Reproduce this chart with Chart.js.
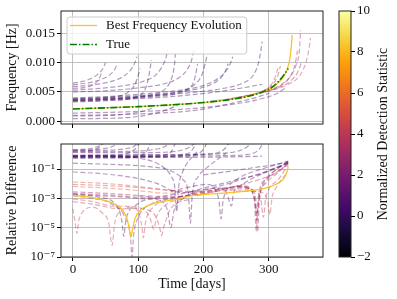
<!DOCTYPE html>
<html lang="en">
<head>
<meta charset="UTF-8">
<title>Frequency tracks</title>
<script src="https://cdn.jsdelivr.net/npm/chart.js"></script>
<style>
  body { margin: 0; width: 397px; height: 299px; background: #fff; position: relative; overflow: hidden; }
  canvas { position: absolute; }
</style>
</head>
<body>
<canvas id="freqChart" width="330" height="134" style="left:0;top:0"></canvas>
<canvas id="diffChart" width="330" height="165" style="left:0;top:134px"></canvas>
<canvas id="cbarChart" width="67" height="299" style="left:330px;top:0"></canvas>

<script>
// ---- data (time in days, frequency in mHz) ----
const xTicks = [0, 100, 200, 300];
const freqTicks = [0, 0.005, 0.010, 0.015];
const diffTicks = [1e-7, 1e-5, 1e-3, 1e-1];
const statTicks = [-2, 0, 2, 4, 6, 8, 10];
const statRange = [-2, 10];

const trueTrack = [[0,2.1],[50,2.3],[100,2.5],[150,2.8],[200,3.2],[240,3.7],[270,4.3],[290,5.0],[305,5.8],[315,6.8],[322,7.7],[327,8.5],[330,9.0]];
const bestTrack = [[0,2.1],[50,2.3],[100,2.5],[150,2.8],[200,3.2],[240,3.7],[270,4.3],[290,5.0],[305,5.7],[315,6.6],[322,7.5],[328,8.8],[332,10.4],[334.5,12.5],[336,14.7]];
const bestStat = 8.3;

const topStats = [0.8, 1.0, 0.6, 1.2, 0.9, 0.7, 0.2, 0.0, 0.4, -0.2, 0.3, 0.1, -0.3, 0.6, 0.5, 0.8, 1.0, 0.5, 1.3, 3.6, 3.2, 3.9, 2.8, 4.2, 3.0];
const topTracks = [
  [[0,6.5],[15,6.8],[28,7.3],[38,8.0],[46,9.0],[50,10.0]],
  [[0,6.2],[20,6.5],[40,7.0],[55,7.8],[64,8.8],[68,9.8]],
  [[0,5.9],[30,6.2],[55,6.7],[75,7.5],[88,8.7],[95,10.0],[98,11.0]],
  [[0,5.6],[20,5.8],[32,6.3],[40,7.2],[44,8.3]],
  [[0,5.3],[40,5.6],[80,6.1],[110,6.9],[128,8.0],[138,9.6],[143,11.0],[145,12.2]],
  [[0,5.0],[50,5.2],[100,5.7],[140,6.4],[162,7.4],[175,8.8],[182,10.5],[186,12.5]],
  [[0,4.0],[50,4.2],[100,4.6],[150,5.1],[190,5.8],[215,6.8],[230,8.0],[240,9.5],[245,11.0]],
  [[0,3.85],[60,4.1],[120,4.5],[170,5.1],[200,5.8],[220,6.8],[232,8.2],[238,9.8]],
  [[0,3.7],[60,3.95],[120,4.35],[180,4.9],[230,5.6],[260,6.5],[276,7.8],[284,9.8],[288,12.0],[290,13.6]],
  [[0,3.55],[50,3.75],[100,4.1],[140,4.6],[170,5.3],[188,6.4],[198,8.0],[203,10.0],[205,11.0]],
  [[0,3.4],[80,3.75],[160,4.3],[220,5.0],[260,5.7],[290,6.3]],
  [[0,3.3],[60,3.55],[90,3.9],[105,4.6],[112,5.8],[116,7.5],[119,9.5],[120,10.4]],
  [[0,3.75],[40,3.95],[70,4.3],[85,5.0],[95,6.3],[100,7.8],[103,9.0]],
  [[0,3.5],[70,3.8],[130,4.3],[165,4.9],[180,5.8],[186,7.0],[189,8.5],[191,9.8]],
  [[0,3.6],[60,3.85],[110,4.3],[135,5.0],[147,6.3],[153,8.0],[156,10.0],[157,11.5]],
  [[0,1.4],[80,1.6],[160,2.0],[230,2.7],[280,3.6],[310,4.6],[325,5.6]],
  [[0,1.0],[100,1.25],[190,1.9],[245,3.1],[285,4.2],[301,4.8]],
  [[0,0.45],[50,0.5],[90,0.7],[120,1.2],[145,2.0],[165,3.0]],
  [[0,0.9],[40,0.95],[80,1.2],[110,1.8],[125,2.4]],
  [[210,3.4],[245,3.9],[275,4.6],[295,5.4],[307,6.4],[314,7.8],[318,9.4]],
  [[230,3.6],[265,4.3],[295,5.1],[318,6.2],[333,7.6],[342,9.6],[347,12.0],[349,15.5]],
  [[240,3.8],[275,4.5],[305,5.3],[330,6.3],[347,7.7],[357,10.0],[362,12.5],[364,14.2]],
  [[250,4.0],[285,4.8],[310,5.6],[326,6.7],[336,8.3],[341,10.0],[344,12.0]],
  [[260,4.1],[288,5.0],[302,6.0],[310,7.5],[314,9.0]],
  [[270,4.4],[300,5.2],[320,6.0],[335,7.0],[345,8.5],[350,10.0]]
];

const bestDiff = [[0,0.0016],[20,0.0013],[40,0.0009],[60,0.0005],[75,0.00018],[83,0.00004],[87,0.000006],[89,0.0000023],[91,0.000006],[95,0.00004],[105,0.00018],[120,0.0004],[134,0.00055],[160,0.0009],[184,0.0016],[220,0.0021],[250,0.0027],[270,0.0033],[290,0.0045],[301,0.006],[312,0.0095],[320,0.016],[325,0.03],[328,0.065],[330,0.14]];

const bottomStats = [0.2, 0.0, 0.4, -0.2, 0.3, 0.1, -0.3, 0.5, 0.6, 0.8, 1.0, 0.6, 1.2, 0.9, 0.7, 1.3, 0.9, 0.5, 1.0, 0.8, 0.8, 1.2, 5.0, 4.6, 5.5, 3.0, 3.5, 2.5, 3.5, 4.5, 2.2, 1.0, 4.2, 3.8, 1.5, 4.0, 4.6, 3.3];
const bottomTracks = [
  [[0,0.9],[100,0.95],[200,1.05],[240,1.3],[258,2.0],[268,3.6],[273,6]],
  [[0,0.8],[100,0.85],[190,0.95],[222,1.3],[233,2.5],[239,6]],
  [[0,0.74],[120,0.77],[230,0.82],[268,1.0],[282,1.6],[288,3.2],[291,6]],
  [[0,0.68],[100,0.7],[170,0.76],[193,1.2],[201,2.5],[205,6]],
  [[0,0.6],[100,0.61],[200,0.64],[260,0.7],[290,0.76]],
  [[0,0.56],[80,0.58],[104,0.8],[114,2],[119,6]],
  [[0,0.83],[60,0.85],[84,1.2],[96,2.5],[102,6]],
  [[0,0.7],[110,0.72],[140,0.9],[151,1.6],[157,6]],
  [[0,0.66],[130,0.68],[168,0.9],[182,1.8],[189,6]],
  [[0,2.1],[20,2.3],[33,2.9],[42,4],[48,6]],
  [[0,1.95],[30,2.1],[50,2.6],[62,3.7],[69,6]],
  [[0,1.8],[50,1.9],[80,2.4],[94,3.6],[99,6]],
  [[0,1.65],[20,1.7],[33,2.1],[41,3.2],[45,6]],
  [[0,1.5],[50,1.55],[100,1.7],[128,2.3],[142,3.6],[147,6]],
  [[0,1.35],[80,1.3],[140,1.4],[168,2.0],[181,3.5],[187,6]],
  [[0,0.063],[40,0.05],[80,0.032],[110,0.018],[135,0.008],[150,0.0035],[170,0.0025],[200,0.005],[250,0.018],[300,0.07],[330,0.28]],
  [[0,0.25],[40,0.22],[80,0.19],[120,0.14],[150,0.075],[168,0.02],[177,0.002],[180,0.00002],[183,0.002],[192,0.03],[205,0.12],[220,0.4],[235,1.2]],
  [[0,0.79],[60,0.74],[100,0.55],[125,0.3],[142,0.1],[151,0.03],[156,0.006],[159,0.00012],[162,0.006],[168,0.06],[175,0.25],[182,0.6],[190,1.5]],
  [[150,0.003],[180,0.006],[205,0.009],[218,0.004],[224,0.0006],[227,0.00004],[230,0.0006],[236,0.004],[255,0.025],[290,0.1],[330,0.35]],
  [[165,0.002],[200,0.004],[225,0.005],[236,0.002],[243,0.0003],[246,0.002],[258,0.008],[295,0.06],[330,0.25]],
  [[200,0.04],[240,0.07],[280,0.13],[310,0.2],[330,0.3]],
  [[180,0.002],[220,0.006],[260,0.02],[300,0.08],[330,0.28]],
  [[0,0.013],[40,0.011],[80,0.008],[120,0.005],[160,0.003],[200,0.0026],[240,0.0035],[270,0.004]],
  [[0,0.009],[50,0.0075],[100,0.0055],[150,0.0036],[190,0.003],[230,0.004]],
  [[0,0.0065],[60,0.0048],[100,0.0034],[130,0.0024],[160,0.0022]],
  [[0,0.0028],[50,0.0022],[100,0.0016],[150,0.0013],[190,0.0018],[230,0.004],[255,0.007],[270,0.005],[278,0.0008],[281,0.000006],[284,0.001],[295,0.02],[310,0.08],[330,0.35]],
  [[0,0.0022],[60,0.0016],[120,0.0011],[160,0.0012],[200,0.0025],[240,0.0055],[262,0.007],[274,0.004],[279,0.0006],[282,0.00003],[285,0.0008],[296,0.015],[315,0.07],[330,0.25]],
  [[0,0.0019],[70,0.0013],[120,0.0009],[150,0.001],[185,0.002],[230,0.005],[250,0.006],[268,0.005],[278,0.001],[282,0.0001],[286,0.002],[300,0.03],[330,0.3]],
  [[190,0.0015],[230,0.004],[270,0.012],[305,0.04],[330,0.22]],
  [[0,0.0002],[3,0.00003],[6,0.000004],[9,0.00003],[15,0.00012],[30,0.00025],[45,0.0001],[55,0.00002],[60,0.0000006],[64,0.00002],[75,0.00015],[90,0.00025],[100,0.00012],[106,0.00001],[108,0.000002],[111,0.00002],[125,0.0003],[150,0.0008],[180,0.0015]],
  [[0,0.0015],[30,0.001],[60,0.0004],[80,0.00005],[88,0.000003],[90.5,0.0000001],[93,0.000003],[100,0.00005],[120,0.0004],[150,0.001],[180,0.0018]],
  [[0,0.002],[40,0.0012],[65,0.0004],[75,0.00003],[78,0.0000025],[81,0.00003],[95,0.0003],[130,0.0012],[160,0.002]],
  [[0,0.0009],[30,0.0006],[60,0.0003],[100,0.00025],[118,0.00005],[124,0.000008],[128,0.00005],[140,0.0003],[170,0.001]],
  [[0,0.0006],[30,0.0004],[70,0.0002],[100,0.0002],[125,0.00008],[133,0.00001],[136,0.000003],[139,0.00001],[150,0.0002],[180,0.0009]],
  [[100,0.0015],[130,0.0008],[145,0.00015],[150,0.00001],[155,0.00015],[170,0.001],[200,0.002]],
  [[240,0.004],[260,0.005],[280,0.003],[288,0.0008],[292,0.00005],[295,0.0008],[300,0.004],[315,0.02],[330,0.2]],
  [[250,0.003],[275,0.003],[290,0.0025],[298,0.0007],[302,0.00008],[305,0.001],[312,0.006],[325,0.04]],
  [[230,0.004],[260,0.006],[275,0.004],[280,0.001],[283,0.000005],[286,0.001],[295,0.01],[315,0.06],[330,0.25]]
];

// ---- styling helpers ----
const serif = '"Liberation Serif", "DejaVu Serif", serif';
const tickFont = { family: serif, size: 13 };
const titleFont = { family: serif, size: 14 };
const inferno = ['#000004','#160b39','#420a68','#6a176e','#932667','#bc3754','#dd513a','#f37819','#fca50a','#f6d746','#fcffa4'];

function hexRGB(h) {
  return [1, 3, 5].map(i => parseInt(h.slice(i, i + 2), 16));
}
function statColor(s, alpha) {
  let t = (s - statRange[0]) / (statRange[1] - statRange[0]);
  t = Math.max(0, Math.min(1, t)) * 10;
  const i = Math.min(9, Math.floor(t)), f = t - i;
  const a = hexRGB(inferno[i]), b = hexRGB(inferno[i + 1]);
  const c = a.map((v, k) => Math.round(v + (b[k] - v) * f));
  return `rgba(${c[0]},${c[1]},${c[2]},${alpha})`;
}
const toPts = (track, k) => track.map(p => ({ x: p[0], y: p[1] * k }));

function trackSet(tracks, stats, k) {
  return tracks.map((tr, i) => ({
    data: toPts(tr, k),
    borderColor: statColor(stats[i], 0.42),
    borderWidth: 1.2,
    borderDash: [5, 2.5],
    pointRadius: 0,
    cubicInterpolationMode: 'monotone'
  }));
}

const gridOpts = { color: '#b0b0b0', lineWidth: 0.8, tickColor: '#000', tickLength: 4, tickWidth: 1 };

function xScale(showLabels) {
  return {
    type: 'linear', min: -18.25, max: 383.25,
    afterBuildTicks: s => { s.ticks = xTicks.map(v => ({ value: v })); },
    afterFit: s => { s.height = showLabels ? 42 : 10; },
    grid: gridOpts,
    border: { display: false },
    ticks: { display: showLabels, font: tickFont, color: '#111', padding: 1, maxRotation: 0 },
    title: { display: showLabels, text: 'Time [days]', font: titleFont, color: '#111', padding: { top: 0, bottom: 6 } }
  };
}

const framePlugin = {
  id: 'frame',
  afterDraw(chart) {
    const { ctx, chartArea: a } = chart;
    ctx.save();
    ctx.strokeStyle = '#222';
    ctx.lineWidth = 1;
    ctx.strokeRect(a.left, a.top, a.right - a.left, a.bottom - a.top);
    ctx.restore();
  }
};

const legendPlugin = {
  id: 'boxLegend',
  afterDatasetsDraw(chart) {
    const { ctx, chartArea: a } = chart;
    const items = chart.data.datasets.filter(d => d.label).reverse();
    const x0 = a.left + 6, y0 = a.top + 6;
    ctx.save();
    ctx.font = '13px ' + serif;
    const textW = Math.max(...items.map(d => ctx.measureText(d.label).width));
    const w = 39 + textW + 5, h = 37;
    ctx.beginPath();
    if (ctx.roundRect) ctx.roundRect(x0, y0, w, h, 3); else ctx.rect(x0, y0, w, h);
    ctx.fillStyle = 'rgba(255,255,255,0.8)';
    ctx.fill();
    ctx.strokeStyle = '#cccccc';
    ctx.lineWidth = 1;
    ctx.stroke();
    items.forEach((d, i) => {
      const y = y0 + 8.5 + i * 19;
      ctx.beginPath();
      ctx.setLineDash(d.borderDash || []);
      ctx.strokeStyle = d.borderColor;
      ctx.lineWidth = d.borderWidth;
      ctx.moveTo(x0 + 3, y);
      ctx.lineTo(x0 + 30, y);
      ctx.stroke();
      ctx.setLineDash([]);
      ctx.fillStyle = '#111';
      ctx.textBaseline = 'middle';
      ctx.fillText(d.label, x0 + 39, y + 0.5);
    });
    ctx.restore();
  }
};

const baseOpts = {
  responsive: false,
  animation: false,
  events: [],
  plugins: { legend: { display: false }, tooltip: { enabled: false } }
};

// ---- top panel: frequency tracks ----
new Chart(document.getElementById('freqChart'), {
  type: 'line',
  data: {
    datasets: [
      { label: 'True', data: toPts(trueTrack, 1e-3), borderColor: '#008000', borderWidth: 1.6,
        borderDash: [7, 2, 1.5, 2], pointRadius: 0, cubicInterpolationMode: 'monotone' },
      { label: 'Best Frequency Evolution', data: toPts(bestTrack, 1e-3), borderColor: statColor(bestStat, 1),
        borderWidth: 1.3, pointRadius: 0, cubicInterpolationMode: 'monotone' },
      ...trackSet(topTracks, topStats, 1e-3)
    ]
  },
  options: {
    ...baseOpts,
    layout: { padding: { top: 11, right: 7, left: 0, bottom: 0 } },
    scales: {
      x: xScale(false),
      y: {
        type: 'linear', min: -0.00046, max: 0.0188,
        afterBuildTicks: s => { s.ticks = freqTicks.map(v => ({ value: v })); },
        afterFit: s => { s.width = 61; },
        grid: gridOpts,
        border: { display: false },
        ticks: { font: tickFont, color: '#111', padding: 2, callback: v => v.toFixed(3) },
        title: { display: true, text: 'Frequency [Hz]', font: titleFont, color: '#111', padding: { top: 4, bottom: 0 } }
      }
    }
  },
  plugins: [framePlugin, legendPlugin]
});

// ---- bottom panel: relative difference ----
const sup = { '-': '\u207B', '0': '\u2070', '1': '\u00B9', '2': '\u00B2', '3': '\u00B3', '4': '\u2074', '5': '\u2075', '6': '\u2076', '7': '\u2077', '8': '\u2078', '9': '\u2079' };
const powLabel = v => '10' + String(Math.round(Math.log10(v))).split('').map(c => sup[c]).join('');

new Chart(document.getElementById('diffChart'), {
  type: 'line',
  data: {
    datasets: [
      { data: toPts(bestDiff, 1), borderColor: statColor(bestStat, 1), borderWidth: 1.3,
        pointRadius: 0, cubicInterpolationMode: 'monotone' },
      ...trackSet(bottomTracks, bottomStats, 1)
    ]
  },
  options: {
    ...baseOpts,
    layout: { padding: { top: 10, right: 7, left: 0, bottom: 0 } },
    scales: {
      x: xScale(true),
      y: {
        type: 'logarithmic', min: 1e-7, max: 5.1,
        afterBuildTicks: s => { s.ticks = diffTicks.map(v => ({ value: v })); },
        afterFit: s => { s.width = 61; },
        grid: gridOpts,
        border: { display: false },
        ticks: { font: tickFont, color: '#111', padding: 2, callback: v => powLabel(v) },
        title: { display: true, text: 'Relative Difference', font: titleFont, color: '#111', padding: { top: 4, bottom: 0 } }
      }
    }
  },
  plugins: [framePlugin]
});

// ---- colour bar ----
const cbarTitle = {
  id: 'cbarTitle',
  afterDraw(chart) {
    const { ctx, chartArea: a } = chart;
    ctx.save();
    ctx.translate(53, (a.top + a.bottom) / 2);
    ctx.rotate(-Math.PI / 2);
    ctx.font = '14px ' + serif;
    ctx.fillStyle = '#111';
    ctx.textAlign = 'center';
    ctx.textBaseline = 'middle';
    ctx.fillText('Normalized Detection Statistic', 0, 0);
    ctx.restore();
  }
};

new Chart(document.getElementById('cbarChart'), {
  type: 'bar',
  data: {
    labels: [''],
    datasets: [{
      data: [statRange],
      barPercentage: 1,
      categoryPercentage: 1,
      borderWidth: 0,
      backgroundColor: c => {
        const a = c.chart.chartArea;
        if (!a) return '#000';
        const g = c.chart.ctx.createLinearGradient(0, a.bottom, 0, a.top);
        inferno.forEach((col, i) => g.addColorStop(i / 10, col));
        return g;
      }
    }]
  },
  options: {
    ...baseOpts,
    layout: { padding: { top: 11, right: 0, left: 9, bottom: 42 } },
    scales: {
      x: { display: false },
      y: {
        position: 'right', min: statRange[0], max: statRange[1],
        afterBuildTicks: s => { s.ticks = statTicks.map(v => ({ value: v })); },
        afterFit: s => { s.width = 46; },
        grid: { drawOnChartArea: false, tickColor: '#000', tickLength: 4, tickWidth: 1 },
        border: { display: false },
        ticks: { font: tickFont, color: '#111', padding: 2, callback: v => String(v).replace('-', '\u2212') }
      }
    }
  },
  plugins: [framePlugin, cbarTitle]
});
</script>
</body>
</html>
